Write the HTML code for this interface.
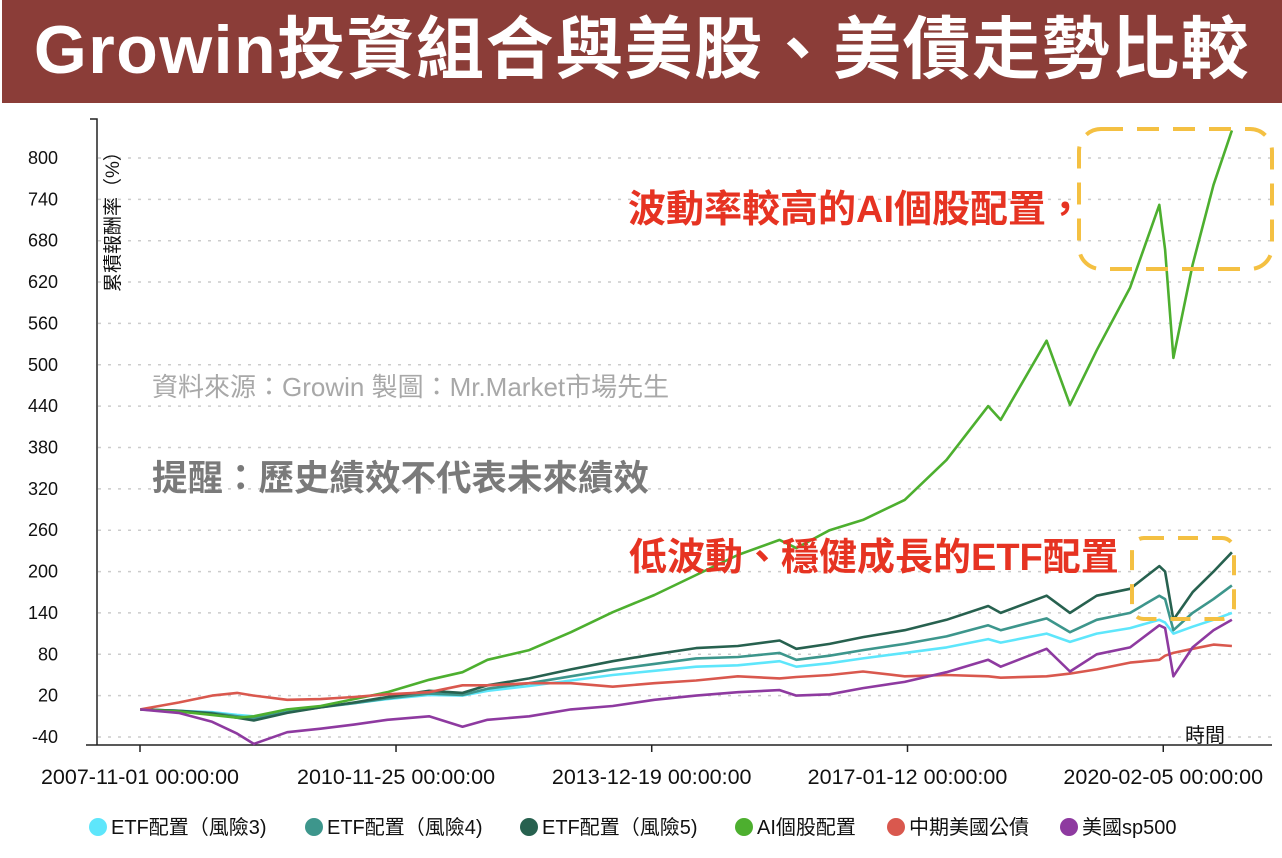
<!DOCTYPE html>
<html><head><meta charset="utf-8">
<style>
html,body{margin:0;padding:0;background:#fff;}
body{width:1282px;height:858px;overflow:hidden;position:relative;font-family:"Liberation Sans","Noto Sans CJK TC",sans-serif;}
#title{position:absolute;left:2px;top:0;width:1280px;height:103px;background:#8b3d38;color:#fff;font-weight:bold;font-size:68px;line-height:100px;text-align:center;letter-spacing:1.5px;white-space:nowrap;}
svg{position:absolute;left:0;top:0;}
</style></head><body>
<div id="title">Growin投資組合與美股、美債走勢比較</div>
<svg id="chart" width="1282" height="858"></svg>
<script>
const years=[2007.84,2008.3,2008.7,2009.0,2009.2,2009.6,2010.0,2010.4,2010.8,2011.3,2011.7,2012.0,2012.5,2013.0,2013.5,2014.0,2014.5,2015.0,2015.5,2015.7,2016.1,2016.5,2017.0,2017.5,2018.0,2018.15,2018.7,2018.98,2019.3,2019.7,2020.05,2020.12,2020.22,2020.45,2020.7,2020.92];
const etf3=[0,-2,-4,-8,-10,-2,4,9,15,21,20,27,34,42,50,56,62,64,70,62,67,74,82,90,102,97,110,98,110,118,130,126,110,120,130,140];
const etf4=[0,-2,-5,-10,-13,-4,3,9,16,23,21,30,38,48,58,66,74,76,82,72,78,86,95,106,122,115,132,112,130,140,165,160,115,140,160,180];
const etf5=[0,-2,-6,-12,-16,-5,3,10,18,27,24,35,45,58,70,80,89,92,100,88,95,105,115,130,150,140,165,140,165,175,208,200,130,170,200,228];
const ai=[0,-3,-8,-12,-10,0,5,15,25,43,54,72,86,112,141,166,195,224,246,234,260,275,304,362,440,420,535,442,521,612,732,667,510,645,761,840];
const bond=[0,10,20,24,20,14,15,18,22,25,35,35,38,38,33,38,42,48,45,47,50,55,48,50,48,46,48,52,58,68,72,78,82,88,94,92];
const sp500=[0,-5,-18,-35,-50,-33,-28,-22,-15,-10,-25,-15,-10,0,5,14,20,25,28,20,22,31,40,54,72,62,88,55,80,90,122,118,48,90,115,130];
const yTicks=[-40,20,80,140,200,260,320,380,440,500,560,620,680,740,800];
const xTickYears=[2007.836,2010.904,2013.968,2017.033,2020.098];
const xTickLabels=["2007-11-01 00:00:00","2010-11-25 00:00:00","2013-12-19 00:00:00","2017-01-12 00:00:00","2020-02-05 00:00:00"];
const seriesNames=["ETF配置（風險3)","ETF配置（風險4)","ETF配置（風險5)","AI個股配置","中期美國公債","美國sp500"];
const seriesColors=["#5ee6fb","#3d968c","#27614f","#4daf2f","#d9584e","#8e3aa0"];
const seriesData=[etf3,etf4,etf5,ai,bond,sp500];
const seriesKeys=["etf3","etf4","etf5","ai","bond","sp500"];

const NS="http://www.w3.org/2000/svg";
const svg=document.getElementById('chart');
function X(yr){return 140+(yr-2007.836)*83.45;}
function Y(v){return 737-(v+40)*0.6893;}
function mk(tag,attrs,parent){const e=document.createElementNS(NS,tag);for(const k in attrs)e.setAttribute(k,attrs[k]);(parent||svg).appendChild(e);return e;}

yTicks.forEach(v=>{
  const g=mk('line',{x1:98,x2:1272,y1:Y(v),y2:Y(v),stroke:'#ccc','stroke-width':1.5,'stroke-dasharray':'3,7'});
  
  
  const t=mk('text',{x:58,y:Y(v)+6,'font-size':18,'text-anchor':'end',fill:'#111'});
  t.textContent=v;
  
  
});
const ya=mk('path',{d:'M90,119 H97 V745',fill:'none',stroke:'#222','stroke-width':1.5});


const xa=mk('line',{x1:86,x2:1272,y1:745,y2:745,stroke:'#222','stroke-width':1.5});


xTickYears.forEach((yr,i)=>{
  const tk=mk('line',{x1:X(yr),x2:X(yr),y1:745,y2:752,stroke:'#222','stroke-width':1.5});
  
  
  const t=mk('text',{x:X(yr),y:784,'font-size':21.5,'text-anchor':'middle',fill:'#111'});
  t.textContent=xTickLabels[i];
  
  
});
const yl=mk('text',{transform:'translate(119,292) rotate(-90)','font-size':19,fill:'#111'});
yl.textContent='累積報酬率（%）';


const xl=mk('text',{x:1185,y:742,'font-size':20,fill:'#111'});
xl.textContent='時間';



const n1=mk('text',{x:152,y:396,'font-size':26,fill:'#a8a8a8'});
n1.textContent='資料來源：Growin  製圖：Mr.Market市場先生';


const n2=mk('text',{x:152,y:490,'font-size':35.5,'font-weight':'bold',fill:'#7a7a7a'});
n2.textContent='提醒：歷史績效不代表未來績效';



seriesData.forEach((arr,i)=>{
  const d=arr.map((v,j)=>(j?'L':'M')+X(years[j]).toFixed(1)+','+Y(v).toFixed(1)).join(' ');
  const p=mk('path',{d:d,fill:'none',stroke:seriesColors[i],'stroke-width':2.6,'stroke-linejoin':'round'});
  
  
});

const a1=mk('text',{x:628,y:222,'font-size':38,'font-weight':'bold',fill:'#e63322'});
a1.textContent='波動率較高的AI個股配置，';


const b1=mk('rect',{x:1079,y:129,width:193,height:140,rx:22,fill:'none',stroke:'#f4c042','stroke-width':4,'stroke-dasharray':'22,14'});


const a2=mk('text',{x:629,y:570,'font-size':38,'font-weight':'bold',fill:'#e63322'});
a2.textContent='低波動、穩健成長的ETF配置';


const b2=mk('rect',{x:1132,y:538,width:102,height:81,rx:12,fill:'none',stroke:'#f4c042','stroke-width':4,'stroke-dasharray':'20,14'});



const lx=[98,314,529,744,896,1069];
seriesNames.forEach((n,i)=>{
  const g=mk('g',{});
  
  
  mk('circle',{cx:lx[i],cy:827,r:9,fill:seriesColors[i]},g);
  const t=mk('text',{x:lx[i]+13,y:834,'font-size':20,fill:'#111'},g);
  t.textContent=n;
});
</script>
</body></html>
